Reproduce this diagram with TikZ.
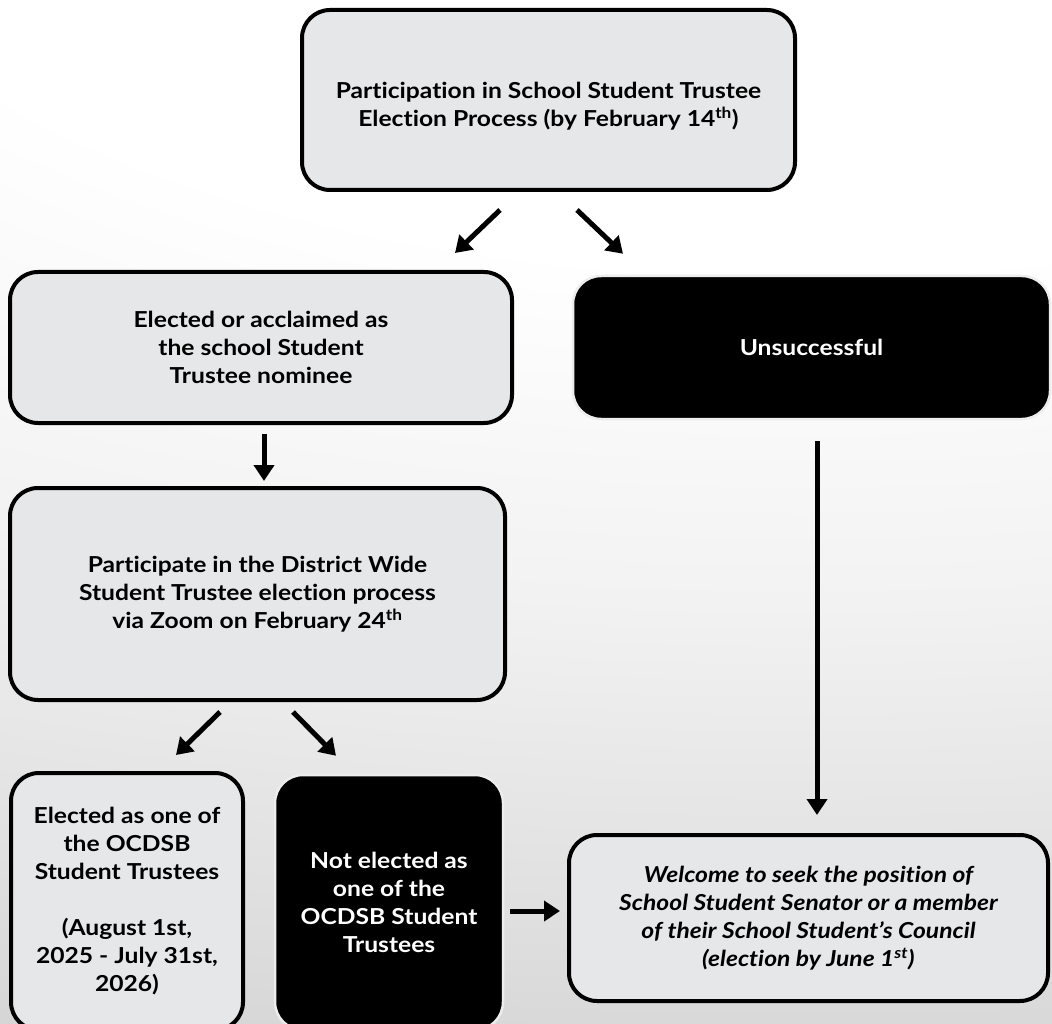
\documentclass[tikz,border=0pt]{standalone}
\usepackage{fontspec}
\setmainfont{Lato}[FakeStretch=1.12, Ligatures=NoCommon]
\usetikzlibrary{arrows.meta}
\definecolor{boxgray}{HTML}{E6E7E9}
\definecolor{bgA}{HTML}{F2F2F2}
\definecolor{bgB}{HTML}{DEDEDE}
\definecolor{bgC}{HTML}{D4D4D4}
\definecolor{bgD}{HTML}{C6C6C6}
\definecolor{bgE}{HTML}{A9A9A9}
\definecolor{rimgray}{HTML}{EDEDED}
\pgfdeclareradialshading{bgshade}{\pgfpoint{0bp}{0bp}}{color(0bp)=(white); color(8bp)=(white); color(14.5bp)=(bgA); color(21bp)=(bgB); color(24bp)=(bgC); color(27bp)=(bgD); color(45bp)=(bgE); color(50bp)=(bgE)}
\tikzset{
  box/.style={draw=black, line width=4pt, fill=boxgray, rounded corners=28pt,
    align=center, inner sep=0pt, text=black,
    font=\fontsize{22}{28}\selectfont\bfseries},
  darkbox/.style={box, fill=black, draw=rimgray, line width=2.5pt, text=white},
  arr/.style={line width=5pt, -{Triangle[width=20pt,length=16pt]}, black}
}
\begin{document}
\begin{tikzpicture}[x=1pt,y=-1pt]
\clip (0,0) rectangle (1052,1024);
\shade[shading=bgshade] (800,-150) ellipse [x radius=3000pt, y radius=1300pt];

\node[box, minimum width=493pt, minimum height=180pt] (top) at (548.5,100)
  {\rule{0pt}{28pt}Participation in School Student Trustee\\Election Process (by February 14\textsuperscript{th})};
\node[box, minimum width=502pt, minimum height=151pt] (elected) at (261,347.5)
  {Elected or acclaimed as\\the school Student\\Trustee nominee};
\node[darkbox, minimum width=477pt, minimum height=143pt] (unsucc) at (811.5,347.5)
  {Unsuccessful};
\node[box, minimum width=495pt, minimum height=212pt] (participate) at (257.5,594)
  {Participate in the District Wide\\Student Trustee election process\\via Zoom on February 24\textsuperscript{th}};
\node[box, minimum width=232pt, minimum height=257pt] (electedone) at (127,901.5)
  {Elected as one of\\the OCDSB\\Student Trustees\\[28pt](August 1st,\\2025 - July 31st,\\2026)};
\node[darkbox, minimum width=228pt, minimum height=255pt] (notel) at (389,902.5)
  {Not elected as\\one of the\\OCDSB Student\\Trustees};
\node[box, minimum width=479pt, minimum height=166pt,
      font=\fontsize{22}{28}\selectfont\bfseries\itshape] (welcome) at (808.5,918)
  {Welcome to seek the position of\\School Student Senator or a member\\of their School Student’s Council\\(election by June 1\textsuperscript{st})};

\draw[arr] ([xshift=-48.5pt,yshift=-18pt]top.south) -- ([xshift=194pt,yshift=17pt]elected.north);
\draw[arr] ([xshift=28.5pt,yshift=-18pt]top.south) -- ([xshift=-188.5pt,yshift=21pt]unsucc.north);
\draw[arr] ([xshift=3pt,yshift=-9pt]elected.south) -- ([xshift=6.5pt,yshift=5pt]participate.north);
\draw[arr] ([xshift=-37.5pt,yshift=-10pt]participate.south) -- ([xshift=49pt,yshift=16pt]electedone.north);
\draw[arr] ([xshift=35.5pt,yshift=-10pt]participate.south) -- ([xshift=-53pt,yshift=18pt]notel.north);
\draw[arr] ([xshift=6pt,yshift=-8.5pt]notel.east) -- ([xshift=-7pt,yshift=7pt]welcome.west);
\draw[arr] ([xshift=5.5pt,yshift=-21pt]unsucc.south) -- ([xshift=8.5pt,yshift=18pt]welcome.north);
\end{tikzpicture}
\end{document}
